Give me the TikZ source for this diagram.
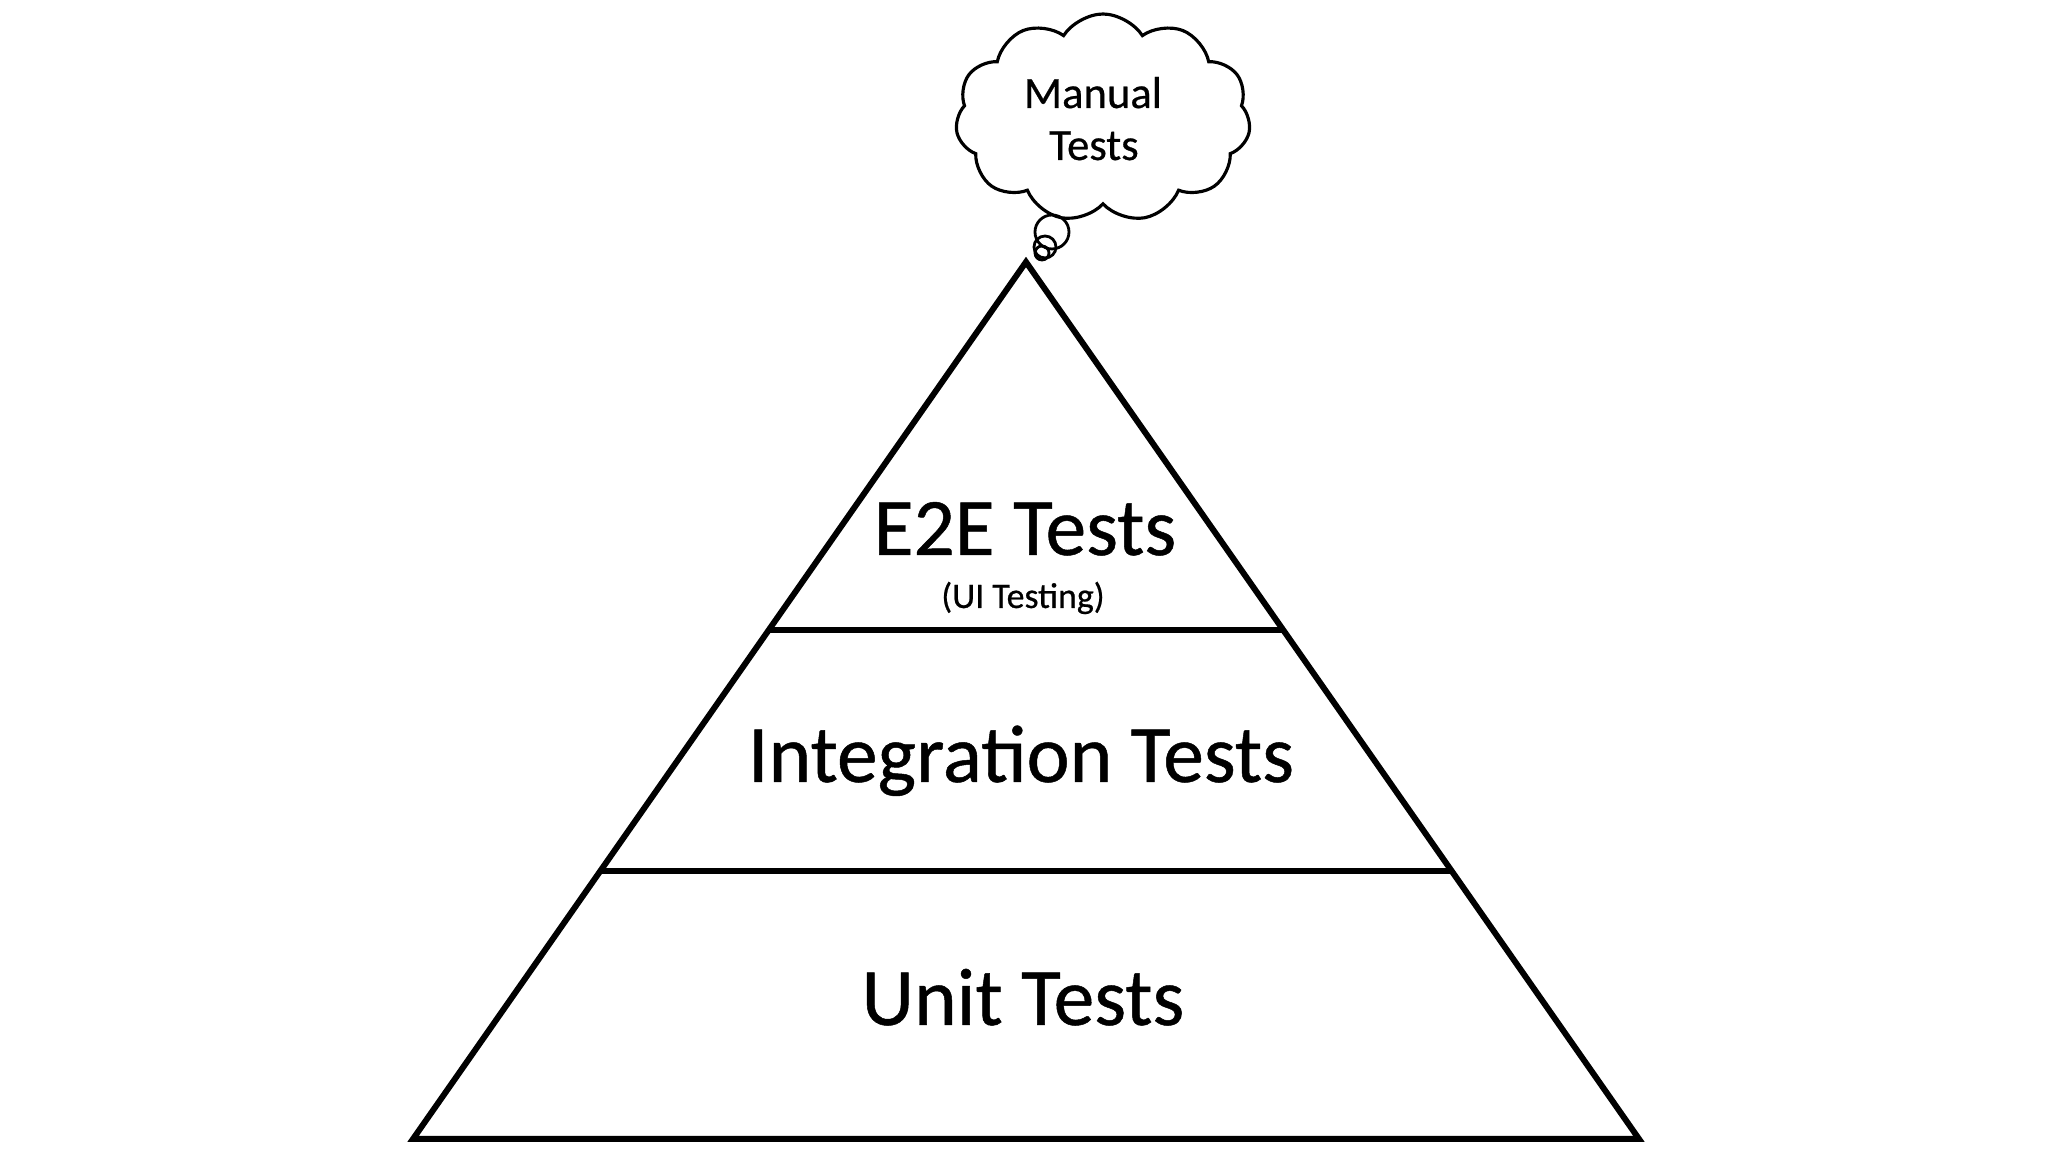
\documentclass[tikz,border=0pt]{standalone}
\usepackage{fontspec}
\setmainfont{Carlito}[FakeBold=0.6]
\usetikzlibrary{calc,shapes.symbols}
\tikzset{
  pyr/.style={line width=1.7pt, draw=black},
  lbl/.style={anchor=base, inner sep=0pt, font=\fontsize{23.2pt}{27pt}\selectfont},
  thought/.style={cloud, draw, line width=0.9pt, cloud puffs=11, cloud puff arc=115, aspect=1.45, inner sep=0pt},
  bubble/.style={circle, draw, line width=0.8pt, inner sep=0pt},
}
\begin{document}
\begin{tikzpicture}[x=1cm,y=1cm]
\useasboundingbox (0,0) rectangle (20.48,11.52);
% triangle vertices (px/100, y flipped)
\coordinate (apex) at (10.26,8.90);
\coordinate (bl) at (4.13,0.13);
\coordinate (br) at (16.39,0.13);
\draw[pyr] (apex) -- (bl) -- (br) -- cycle;
\coordinate (l1a) at ($(apex)!0.4196!(bl)$);
\coordinate (l1b) at ($(apex)!0.4196!(br)$);
\coordinate (l2a) at ($(apex)!0.6944!(bl)$);
\coordinate (l2b) at ($(apex)!0.6944!(br)$);
\draw[pyr] (l1a) -- (l1b);
\draw[pyr] (l2a) -- (l2b);
% labels
\node[lbl] (e2e) at (10.25,5.97) {E2E Tests};
\node[lbl, font=\fontsize{10.2pt}{12pt}\selectfont] (ui) at (10.23,5.44) {(UI Testing)};
\node[lbl] (integ) at (10.21,3.70) {Integration Tests};
\node[lbl] (unit) at (10.23,1.27) {Unit Tests};
% thought cloud
\node[thought, minimum width=2.95cm, minimum height=2.08cm] (cloudn) at (11.03,10.34) {};
\node[anchor=base, inner sep=0pt, font=\fontsize{12.7pt}{15pt}\selectfont] (manual) at (10.93,10.44) {Manual};
\node[anchor=base, inner sep=0pt, font=\fontsize{12.7pt}{15pt}\selectfont] (tests) at (10.94,9.92) {Tests};
\node[bubble, minimum size=0.34cm] (b1) at (10.52,9.20) {};
\node[bubble, minimum size=0.22cm] (b2) at (10.45,9.05) {};
\node[bubble, minimum size=0.14cm] (b3) at (10.42,8.99) {};
\end{tikzpicture}
\end{document}
